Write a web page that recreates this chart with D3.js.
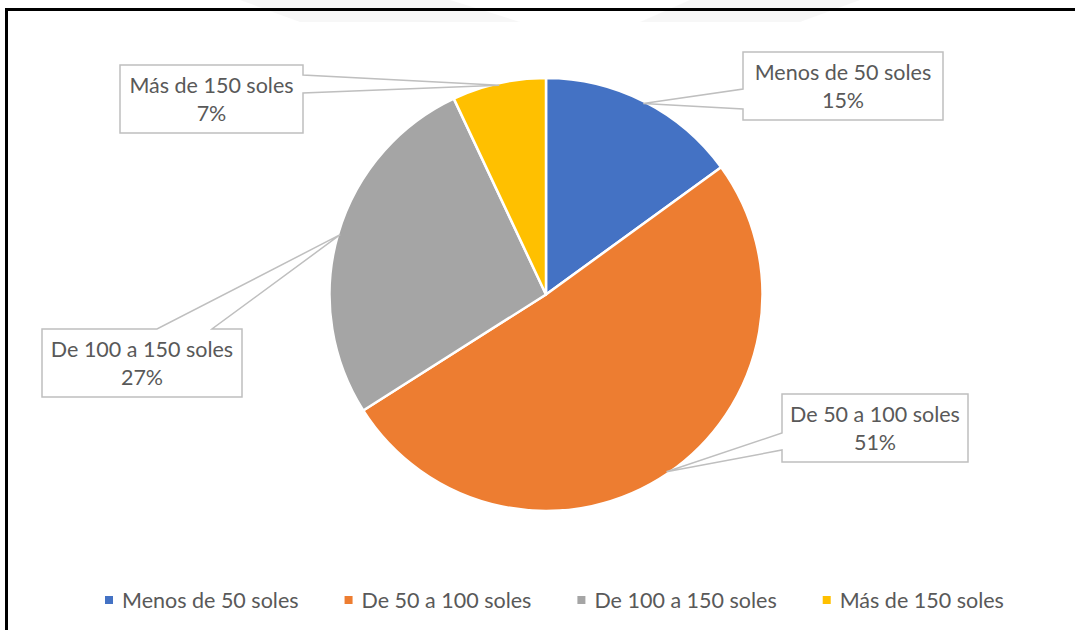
<!DOCTYPE html>
<html>
<head>
<meta charset="utf-8">
<script src="https://cdn.jsdelivr.net/npm/d3@7"></script>
<style>
  html, body { margin: 0; padding: 0; background: #ffffff; }
  svg { display: block; }
  text { font-family: Lato, "Open Sans", "Liberation Sans", sans-serif; fill: #595959; }
</style>
</head>
<body>
<svg id="chart" width="1075" height="630"></svg>
<script>
// Spending ranges and their share of respondents (%)
const categories = ["Menos de 50 soles", "De 50 a 100 soles", "De 100 a 150 soles", "Más de 150 soles"];
const shares = [15, 51, 27, 7];
const shareLabels = ["15%", "51%", "27%", "7%"];
const colors = ["#4472C4", "#ED7D31", "#A5A5A5", "#FFC000"];

const W = 1075, H = 630;
const cx = 546, cy = 294.5, R = 216.5;
const FS = 21.5;

const svg = d3.select("#chart");

// faint background mark above the frame
const wm = svg.append("g").attr("fill", "#f1f1f1");
wm.append("path").attr("d", "M240,0 L450,0 L520,22 L300,22 Z").attr("opacity", 0.6);
wm.append("path").attr("d", "M690,0 L860,0 L800,22 L640,22 Z").attr("opacity", 0.6);

// chart frame (left and top edges visible)
svg.append("path")
  .attr("d", `M6.5,${H + 5} L6.5,9.5 L${W + 5},9.5`)
  .attr("fill", "none")
  .attr("stroke", "#000")
  .attr("stroke-width", 3);

// pie
const pie = d3.pie().sort(null).value(d => d);
const arcs = pie(shares);
const arc = d3.arc().innerRadius(0).outerRadius(R);
const tipArc = d3.arc().innerRadius(R * 0.99).outerRadius(R * 0.99);

const g = svg.append("g").attr("transform", `translate(${cx},${cy})`);
g.selectAll("path.slice")
  .data(arcs)
  .join("path")
  .attr("class", "slice")
  .attr("d", arc)
  .attr("fill", (d, i) => colors[i])
  .attr("stroke", "#ffffff")
  .attr("stroke-width", 2.5)
  .attr("stroke-linejoin", "round");

// callout boxes: position, size, and where the pointer leaves the box
const callouts = [
  { x: 743, y: 52,  w: 200, h: 68, edge: "left",  a: 57, b: 37 },
  { x: 782, y: 394, w: 186, h: 68, edge: "left",  a: 56, b: 39 },
  { x: 42,  y: 329, w: 200, h: 68, edge: "top",   a: 115, b: 170 },
  { x: 120, y: 65,  w: 183, h: 68, edge: "right", a: 10, b: 28 }
];

function calloutPath(c, tip) {
  const { x, y, w, h } = c;
  const p = [];
  p.push([x, y]);
  if (c.edge === "top") { p.push([x + c.a, y], tip, [x + c.b, y]); }
  p.push([x + w, y]);
  if (c.edge === "right") { p.push([x + w, y + c.a], tip, [x + w, y + c.b]); }
  p.push([x + w, y + h]);
  p.push([x, y + h]);
  if (c.edge === "left") { p.push([x, y + c.a], tip, [x, y + c.b]); }
  return "M" + p.map(q => q.join(",")).join("L") + "Z";
}

const labels = svg.append("g");
arcs.forEach((d, i) => {
  const c = callouts[i];
  const t = tipArc.centroid(d);
  const tip = [cx + t[0], cy + t[1]];
  labels.append("path")
    .attr("d", calloutPath(c, tip))
    .attr("fill", "#ffffff")
    .attr("stroke", "#bfbfbf")
    .attr("stroke-width", 1.5)
    .attr("stroke-linejoin", "miter");
  labels.append("text")
    .attr("x", c.x + c.w / 2)
    .attr("y", c.y + 28)
    .attr("text-anchor", "middle")
    .attr("font-size", FS)
    .text(categories[i]);
  labels.append("text")
    .attr("x", c.x + c.w / 2)
    .attr("y", c.y + 56)
    .attr("text-anchor", "middle")
    .attr("font-size", FS)
    .text(shareLabels[i]);
});

// legend
const legend = svg.append("g");
const legendY = 600;
let lx = 105;
categories.forEach((name, i) => {
  legend.append("rect")
    .attr("x", lx).attr("y", legendY - 4)
    .attr("width", 8).attr("height", 8)
    .attr("fill", colors[i]);
  const txt = legend.append("text")
    .attr("x", lx + 17)
    .attr("y", legendY + 8)
    .attr("font-size", FS)
    .text(name);
  lx += 17 + txt.node().getComputedTextLength() + 46;
});
</script>
</body>
</html>
